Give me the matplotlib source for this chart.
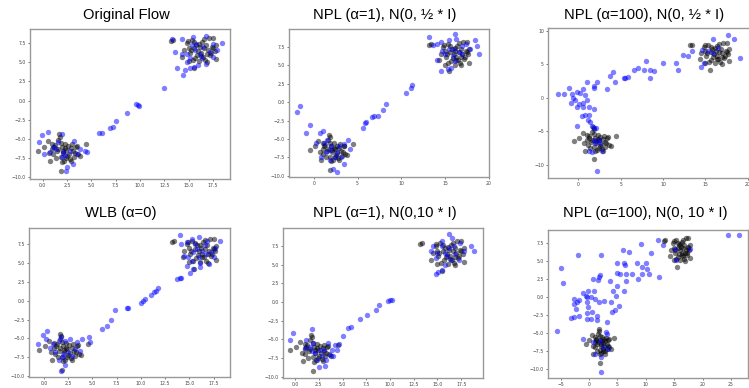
import numpy as np
import matplotlib
matplotlib.use("Agg")
from matplotlib import pyplot as plt
from matplotlib.ticker import MultipleLocator

# observed data (black), same in every panel
data_low = np.array([
    [-0.5, -6.5], [0.1, -6.0], [0.5, -5.3], [0.8, -7.9], [1.0, -6.3], [1.1, -7.0],
    [1.3, -5.8], [1.5, -6.6], [1.6, -5.1], [1.7, -4.4], [1.8, -4.7], [1.9, -9.2],
    [1.9, -7.4], [2.0, -6.0], [2.1, -6.8], [2.2, -7.8], [2.3, -5.6], [2.4, -6.4],
    [2.5, -7.2], [2.6, -5.9], [2.7, -6.9], [2.8, -7.6], [2.9, -6.2], [3.0, -5.7],
    [3.1, -6.6], [3.2, -7.3], [3.4, -6.0], [3.6, -7.0], [3.8, -7.2], [4.5, -5.7],
    [1.4, -7.5], [1.2, -6.0], [2.0, -8.0], [0.7, -6.8], [1.6, -6.3], [2.3, -6.2],
    [2.9, -7.9], [3.3, -6.8], [1.9, -5.5], [2.4, -7.5], [1.0, -5.6], [2.1, -6.5],
    [3.5, -5.9],
])
data_high = np.array([
    [13.2, 7.8], [13.4, 7.9], [14.3, 5.7], [14.5, 6.6], [14.8, 7.5], [15.0, 5.1],
    [15.1, 6.2], [15.3, 7.9], [15.5, 4.2], [15.6, 6.8], [15.7, 5.6], [15.8, 7.3],
    [15.9, 6.0], [16.0, 6.5], [16.1, 5.1], [16.2, 7.0], [16.3, 6.2], [16.4, 7.7],
    [16.5, 5.7], [16.6, 6.8], [16.7, 5.3], [16.8, 7.3], [16.9, 6.1], [17.0, 6.6],
    [17.1, 8.2], [17.2, 5.9], [17.4, 7.0], [17.5, 8.2], [17.7, 6.5], [17.8, 5.4],
    [17.5, 6.8], [15.2, 6.6], [15.4, 5.3], [16.3, 5.8], [14.9, 7.8], [16.6, 8.0],
    [17.3, 6.2], [15.6, 7.6], [16.9, 5.0], [16.1, 7.4], [15.0, 6.9], [17.8, 7.2],
])

# samples (blue), one set per panel
original_flow = np.array([
    [-0.1, -4.5], [-0.35, -5.4], [0.6, -4.1], [0.17, -6.9], [1.1, -6.0], [1.6, -5.4],
    [2.1, -6.7], [2.5, -8.7], [2.4, -9.1], [3.2, -5.2], [3.1, -8.2], [4.3, -6.5],
    [4.6, -6.7], [1.95, -4.3], [1.4, -6.3], [2.3, -7.1], [2.8, -6.5], [1.95, -7.3],
    [0.75, -6.7], [3.5, -6.9], [3.8, -6.3],
    [5.8, -4.2], [6.1, -4.2], [6.9, -3.6], [7.2, -3.4], [7.5, -2.7], [8.7, -1.6],
    [9.6, -0.5], [9.8, -0.6], [9.9, -0.7], [12.5, 1.65], [13.8, 4.2], [14.4, 3.3],
    [14.6, 4.0], [13.6, 6.3],
    [13.25, 8.0], [14.3, 8.0], [15.4, 8.3], [16.8, 8.4], [18.4, 7.5], [17.9, 6.6],
    [17.5, 5.7], [16.8, 4.8], [16.0, 4.6], [15.1, 4.2], [15.5, 4.4], [14.8, 5.0],
    [15.65, 6.6], [16.2, 6.1], [16.5, 7.0], [15.3, 7.2], [15.8, 7.4], [14.8, 6.1],
    [17.2, 6.3], [15.1, 5.5], [16.35, 5.5], [14.3, 6.1], [17.5, 7.4],
])
npl1_half = np.array([
    [-1.9, -1.37], [-1.63, -0.46], [-0.95, -4.2], [-0.42, -3.15], [0.72, -4.2],
    [1.0, -3.9], [0.27, -5.6], [1.2, -5.6], [1.8, -6.5], [2.2, -9.0], [2.6, -9.5],
    [3.5, -8.4], [4.1, -6.3], [3.9, -5.1], [3.4, -5.7], [2.9, -6.0], [2.4, -7.4],
    [3.1, -7.4], [1.8, -7.85], [0.84, -7.4], [1.4, -6.7], [2.7, -6.7], [1.5, -5.1],
    [2.0, -6.0],
    [5.6, -3.5], [5.8, -2.8], [6.0, -2.7], [6.7, -2.0], [6.9, -1.8], [7.3, -1.8],
    [7.9, -1.1], [8.2, -0.2], [10.5, 1.3], [11.1, 2.0], [11.2, 2.3],
    [13.2, 8.9], [13.6, 7.8], [14.1, 7.9], [14.5, 8.2], [15.5, 8.4], [16.2, 9.3],
    [16.3, 8.6], [17.4, 7.9], [18.5, 8.4], [18.7, 7.7], [18.9, 6.5], [17.9, 7.2],
    [17.0, 6.5], [16.2, 5.6], [15.4, 4.5], [14.5, 4.2], [15.7, 4.6], [14.1, 5.8],
    [14.7, 7.0], [15.5, 7.2], [16.0, 7.2], [16.6, 6.8], [15.9, 6.3], [15.0, 6.5],
    [17.0, 7.7],
])
npl100_half = np.array([
    [-2.4, 0.5], [-1.65, 0.5], [-1.06, 1.4], [-0.8, 0.6], [-0.6, 0.0], [-0.2, 0.9],
    [0.2, 0.65], [-0.4, -0.35], [-0.9, -0.75], [0.1, -0.95], [-0.1, -1.45],
    [0.5, 1.25], [0.8, 0.4], [1.06, -0.35], [0.6, -0.85], [1.2, -1.35], [0.5, -1.45],
    [1.85, -1.7], [0.4, -2.7], [0.8, -2.6], [1.2, -2.6], [1.1, -3.4], [1.4, -3.7],
    [1.6, -4.3], [-0.1, -4.3], [1.9, -4.6], [2.1, -4.5], [1.8, -6.3], [1.2, -8.0],
    [1.6, -8.1], [2.6, -6.8], [2.75, -7.9], [2.4, -6.3], [2.0, -6.8], [2.2, -10.95],
    [1.0, 2.4], [1.8, 1.5], [1.9, 1.8], [2.2, 2.4], [3.35, 1.3], [3.7, 3.2],
    [4.05, 3.9], [4.3, 2.3], [5.4, 3.0], [5.5, 3.0], [5.9, 3.1], [6.6, 4.1],
    [7.0, 4.5], [7.8, 4.1], [7.95, 5.5], [8.5, 4.2], [8.4, 2.9], [8.9, 4.0],
    [10.0, 5.2], [11.5, 5.2], [11.7, 4.1], [12.3, 6.4], [12.9, 6.2], [13.4, 6.9],
    [14.6, 7.1], [14.5, 4.6], [14.8, 5.1],
    [15.9, 8.7], [16.5, 7.4], [17.6, 9.4], [18.4, 8.7], [19.1, 5.9], [15.9, 6.6],
    [15.35, 6.9],
])
wlb = np.array([
    [-0.6, -5.7], [-0.1, -4.6], [0.35, -4.0], [0.2, -5.1], [0.6, -6.2], [1.1, -6.8],
    [1.5, -7.9], [1.8, -9.25], [2.2, -8.5], [1.8, -4.8], [2.2, -5.3], [2.7, -5.1],
    [3.4, -5.5], [3.9, -5.1], [4.6, -4.8], [4.7, -5.5], [3.7, -6.6], [3.2, -6.4],
    [2.5, -6.8], [2.9, -7.3], [2.0, -7.5], [1.5, -5.3], [0.97, -5.7], [2.0, -7.0],
    [6.0, -3.7], [6.5, -3.4], [6.9, -2.5], [7.3, -1.3], [8.55, -1.0], [8.7, -1.0],
    [10.0, -0.35], [10.2, 0.0], [10.4, 0.2], [11.0, 0.8], [11.4, 1.2], [11.6, 1.3],
    [11.8, 1.7], [13.7, 2.9], [14.0, 3.0], [14.1, 3.0], [14.0, 8.7],
    [14.1, 7.5], [14.75, 7.7], [15.3, 8.2], [16.0, 8.4], [16.8, 7.9], [18.2, 7.9],
    [17.7, 7.0], [17.5, 5.7], [17.0, 4.8], [16.1, 4.4], [15.4, 4.2], [15.1, 3.7],
    [14.8, 4.6], [14.9, 5.7], [14.4, 5.9], [15.4, 6.4], [15.8, 6.8], [16.3, 6.6],
    [16.7, 6.2], [15.95, 5.7], [15.3, 5.3], [17.2, 6.4], [16.6, 7.3], [15.6, 7.5],
    [16.1, 5.0],
])
npl1_ten = np.array([
    [-0.5, -5.1], [-0.2, -4.2], [1.8, -3.6], [1.2, -5.1], [1.6, -6.0], [1.9, -5.5],
    [2.6, -6.4], [2.8, -7.3], [2.5, -8.7], [3.2, -8.6], [3.7, -7.1], [4.0, -7.3],
    [3.5, -5.5], [4.2, -5.7], [4.4, -6.4], [2.3, -7.8], [2.1, -6.9], [3.1, -6.4],
    [1.1, -6.2], [3.3, -7.8], [3.9, -6.4], [1.8, -6.6],
    [4.6, -5.6], [5.1, -4.5], [5.6, -3.5], [5.9, -3.3], [6.8, -2.3], [7.6, -1.7],
    [8.5, -1.0], [8.8, -0.45], [9.75, 0.1], [10.0, 0.3], [10.2, 0.3],
    [14.8, 5.9], [15.0, 6.6], [14.3, 6.8], [14.5, 7.5], [15.5, 8.2], [16.2, 9.1],
    [16.5, 8.6], [17.4, 7.9], [18.5, 7.5], [18.8, 6.8], [17.8, 6.8], [16.9, 6.4],
    [16.4, 5.7], [15.8, 5.0], [15.5, 4.3], [15.1, 4.1], [14.8, 3.8], [16.2, 7.2],
    [15.8, 6.6], [16.7, 7.5], [16.0, 6.2], [17.3, 5.7], [15.5, 7.5],
])
npl100_ten = np.array([
    [-5.7, -4.7], [-4.9, 4.0], [-4.6, 1.9], [-1.9, 5.9], [2.1, 5.9], [-3.2, -2.9],
    [-2.6, -2.85], [-1.76, -2.6], [-2.3, -1.7], [-2.05, -0.75], [-1.7, -0.4],
    [-2.6, -1.0], [-2.7, -0.3], [-1.0, 0.5], [-0.5, 0.2], [-0.1, 0.8], [-0.3, -0.05],
    [-0.4, -0.75], [-0.2, -1.35], [-0.4, -2.3], [-0.3, -3.1], [0.3, -3.1],
    [0.5, -2.1], [0.75, 2.5], [1.6, 2.4], [1.9, 3.1], [1.8, 2.8], [0.9, 0.9],
    [0.3, -0.05], [1.05, -0.3], [1.76, -0.75], [1.5, -2.7], [1.35, -3.2],
    [2.7, -0.5], [3.2, -3.45], [3.0, -4.9], [3.7, 2.3], [3.9, -0.75], [4.3, 0.9],
    [4.0, -2.1], [4.6, -1.8], [4.75, 0.2], [4.9, 1.6], [4.9, 3.3], [4.9, 4.8],
    [5.5, 3.2], [5.3, -1.3], [6.2, 0.9], [6.2, 4.8], [6.3, 4.5], [6.0, 6.6],
    [7.0, 6.3], [6.5, 2.3], [6.6, 3.2], [7.5, 3.2], [8.4, 4.8], [8.7, 2.5],
    [9.3, 4.2], [9.4, 3.2], [9.1, 7.4], [10.0, 4.8], [10.3, 3.9], [10.6, 3.2],
    [10.9, 6.2], [12.4, 2.8], [12.2, 8.0], [13.0, 7.2], [15.1, 6.7], [15.4, 5.1],
    [17.8, 6.7], [24.5, 8.6], [26.5, 8.6],
    [-1.1, -5.9], [1.05, -7.95], [2.2, -8.4], [2.2, -10.5], [3.4, -7.3], [1.9, -6.1],
    [0.8, -6.3], [2.5, -7.0], [3.1, -5.2],
])

titles = ["Original Flow", "NPL (α=1), N(0, ½ * I)", "NPL (α=100), N(0, ½ * I)",
          "WLB (α=0)", "NPL (α=1), N(0,10 * I)", "NPL (α=100), N(0, 10 * I)"]
samples = [original_flow, npl1_half, npl100_half, wlb, npl1_ten, npl100_ten]
x_steps = [2.5, 5, 5, 2.5, 2.5, 5]
y_steps = [2.5, 2.5, 5, 2.5, 2.5, 2.5]
x_lims = [(-1.3, 19.25), (-2.85, 20.05), (-3.58, 20.25),
          (-1.55, 19.2), (-1.27, 19.8), (-7.2, 28.0)]
y_lims = [(-10.2, 9.33), (-10.15, 9.95), (-12.0, 10.4),
          (-10.1, 9.6), (-10.2, 9.95), (-11.3, 9.35)]

W, H = 749, 388
# axes boxes in pixels: left, top, right, bottom
boxes = [(30, 29, 230, 179), (289, 29, 489, 177), (548, 28, 750, 178),
         (29, 228, 230, 377), (283, 228, 483, 378), (548, 230, 748, 378)]
title_pos = [(126, 15), (385, 15), (644, 15), (121, 213), (385, 213), (645, 213)]

fig = plt.figure(figsize=(W / 100, H / 100), dpi=100)
data = np.vstack([data_low, data_high])

for i in range(6):
    l, t, r, b = boxes[i]
    ax = fig.add_axes([l / W, 1 - b / H, (r - l) / W, (b - t) / H])
    ax.scatter(data[:, 0], data[:, 1], s=15, c="black", alpha=0.5, linewidths=0)
    pts = samples[i]
    ax.scatter(pts[:, 0], pts[:, 1], s=15, c="blue", alpha=0.5, linewidths=0)
    ax.set_xlim(*x_lims[i])
    ax.set_ylim(*y_lims[i])
    ax.xaxis.set_major_locator(MultipleLocator(x_steps[i]))
    ax.yaxis.set_major_locator(MultipleLocator(y_steps[i]))
    ax.tick_params(labelsize=3.3, length=1.5, width=0.5, pad=1.5, colors="#444444")
    for sp in ax.spines.values():
        sp.set_color("#999999")
        sp.set_linewidth(1.0)
    tx, ty = title_pos[i]
    fig.text(tx / W, 1 - ty / H, titles[i], ha="center", va="center",
             fontsize=10.6, family=["Liberation Sans", "DejaVu Sans"])

fig.savefig("out.png", dpi=100)
